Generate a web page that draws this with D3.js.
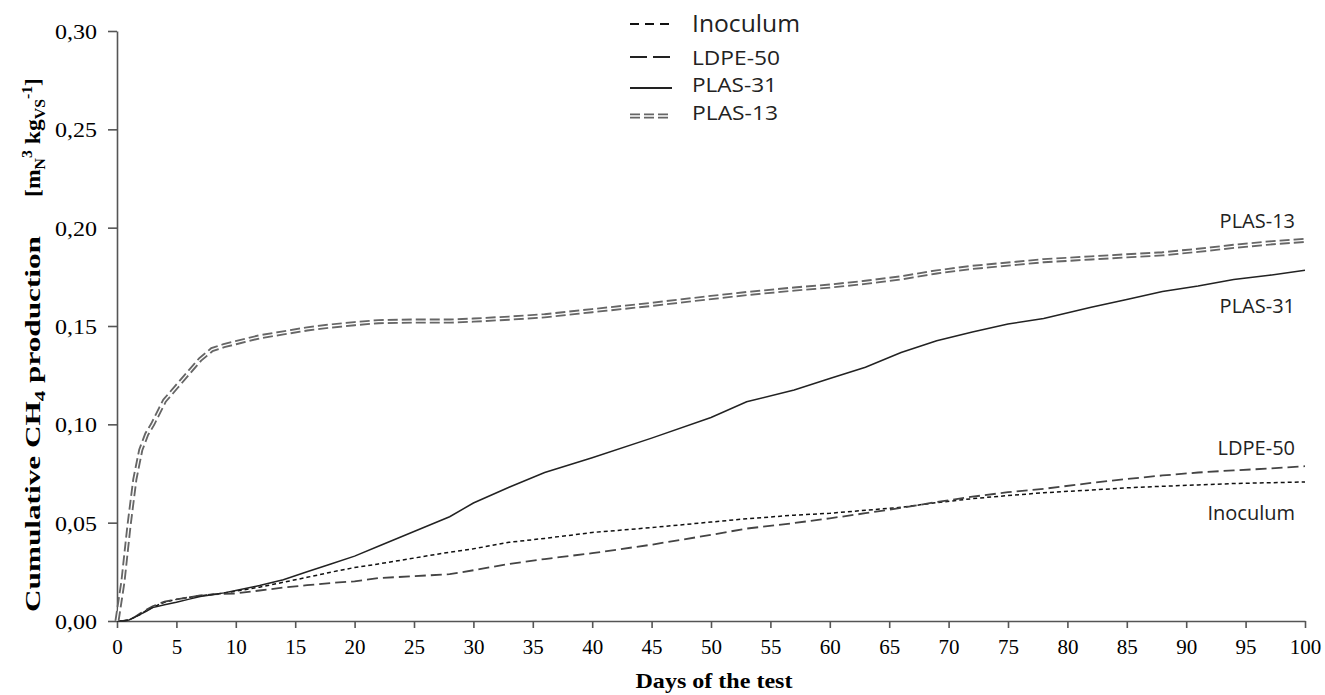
<!DOCTYPE html>
<html><head><meta charset="utf-8">
<script src="https://cdn.jsdelivr.net/npm/d3@7"></script>
<style>body{margin:0;background:#fff}svg{display:block}</style>
</head><body><svg id="c" width="1325" height="695"></svg>
<script>
const days = [0,0.5,1,1.5,2,2.5,3,4,5,6,7,8,9,10,12,14,16,18,20,22,25,28,30,33,36,40,45,50,53,57,60,63,66,69,72,75,78,82,85,88,91,94,97,100];
const inoculum = [0,0,0.0005,0.002,0.0035,0.0055,0.007,0.0095,0.011,0.012,0.0128,0.0135,0.0142,0.0152,0.0172,0.0197,0.0222,0.0248,0.0272,0.029,0.032,0.035,0.0367,0.04,0.042,0.045,0.0475,0.0503,0.052,0.0538,0.0548,0.0563,0.0578,0.0602,0.0622,0.0638,0.0652,0.0666,0.0677,0.0685,0.0692,0.0699,0.0703,0.0707];
const ldpe50 = [0,0,0.0005,0.002,0.004,0.0058,0.0075,0.0098,0.011,0.012,0.013,0.0135,0.0138,0.014,0.0155,0.017,0.0182,0.0193,0.0202,0.0218,0.0228,0.0238,0.0258,0.029,0.0315,0.0345,0.0388,0.0438,0.047,0.0498,0.0522,0.0548,0.0575,0.0605,0.0632,0.0655,0.0672,0.0702,0.0722,0.074,0.0755,0.0766,0.0775,0.0787];
const plas31 = [0,0,0.0005,0.002,0.0035,0.005,0.0068,0.0083,0.0095,0.011,0.0125,0.0133,0.0143,0.0155,0.018,0.021,0.025,0.029,0.033,0.038,0.0455,0.053,0.06,0.068,0.0755,0.083,0.093,0.1035,0.1115,0.1175,0.1233,0.129,0.1365,0.1425,0.147,0.151,0.1538,0.1595,0.1635,0.1675,0.1703,0.1736,0.1758,0.1784];
const plas13 = [0,0.02,0.048,0.072,0.087,0.095,0.1,0.112,0.119,0.126,0.133,0.138,0.14,0.1415,0.1445,0.1465,0.1485,0.15,0.1512,0.1522,0.1525,0.1525,0.153,0.154,0.1552,0.1578,0.161,0.1645,0.1665,0.1688,0.1703,0.1722,0.1745,0.1775,0.1798,0.1815,0.1832,0.1846,0.1857,0.1867,0.1885,0.1905,0.1922,0.1935];
const seriesNames = ["Inoculum","LDPE-50","PLAS-31","PLAS-13"];
const xTicks = [0,5,10,15,20,25,30,35,40,45,50,55,60,65,70,75,80,85,90,95,100];
const yTicks = [0,0.05,0.10,0.15,0.20,0.25,0.30];

const svg = d3.select("#c");
const x = d3.scaleLinear().domain([0,100]).range([117,1305]);
const y = d3.scaleLinear().domain([0,0.30]).range([621,31]);
const axisColor = "#555";
const serif = "'Liberation Serif','Times New Roman',serif";
const sans = "'Open Sans','Noto Sans',sans-serif";

// axes
const gx = svg.append("g").attr("transform","translate(0,621)")
  .call(d3.axisBottom(x).tickValues(xTicks).tickSize(7).tickSizeOuter(0).tickPadding(10).tickFormat(d3.format("d")));
const gy = svg.append("g").attr("transform","translate(117,0)")
  .call(d3.axisLeft(y).tickValues(yTicks).tickSize(9).tickSizeOuter(0).tickPadding(11).tickFormat(d=>d3.format(".2f")(d).replace(".",",")));
[gx,gy].forEach(g=>{
  g.selectAll("path,line").attr("stroke",axisColor).attr("stroke-width",1.6);
  g.selectAll("text").attr("fill","#000").style("font-family",serif).style("font-size","21px");
});
gy.selectAll("text").attr("dy","0.35em").attr("textLength",42).attr("lengthAdjust","spacingAndGlyphs");
gx.selectAll("text").attr("dy","0.75em");

// lines
const line = d3.line().x((d,i)=>x(days[i])).y(d=>y(d));
svg.append("path").datum(inoculum).attr("d",line).attr("fill","none").attr("stroke","#111").attr("stroke-width",1.5).attr("stroke-dasharray","4,3");
svg.append("path").datum(ldpe50).attr("d",line).attr("fill","none").attr("stroke","#444").attr("stroke-width",1.8).attr("stroke-dasharray","11,5");
svg.append("path").datum(plas31).attr("d",line).attr("fill","none").attr("stroke","#222").attr("stroke-width",1.5);
svg.append("path").datum(plas13).attr("d",line).attr("fill","none").attr("stroke","#666").attr("stroke-width",5).attr("stroke-dasharray","10,4");
svg.append("path").datum(plas13).attr("d",line).attr("fill","none").attr("stroke","#fff").attr("stroke-width",1.3);

// right labels
const endLabels = [
  {name:seriesNames[3], y:228},
  {name:seriesNames[2], y:313},
  {name:seriesNames[1], y:455},
  {name:seriesNames[0], y:520}
];
svg.selectAll("text.end").data(endLabels).join("text").attr("class","end")
  .attr("x",1295).attr("y",d=>d.y).attr("text-anchor","end")
  .style("font-family",sans).style("font-size","20px").attr("fill","#222").text(d=>d.name);

// legend
const leg = [
  {name:seriesNames[0], ly:24, ty:32, fs:23, tl:108},
  {name:seriesNames[1], ly:57, ty:65, fs:20, tl:88},
  {name:seriesNames[2], ly:88, ty:92, fs:20, tl:85},
  {name:seriesNames[3], ly:116, ty:120, fs:20, tl:86}
];
const lg = svg.append("g");
const styles = [
  {stroke:"#111",w:1.8,dash:"9,6"},
  {stroke:"#222",w:2,dash:"17,6"},
  {stroke:"#222",w:2,dash:null},
  {stroke:"#666",w:5,dash:"10,4",dbl:true}
];
leg.forEach((d,i)=>{
  const s = styles[i];
  const l = lg.append("line").attr("x1",630).attr("x2",672).attr("y1",d.ly).attr("y2",d.ly)
    .attr("stroke",s.stroke).attr("stroke-width",s.w);
  if(s.dash) l.attr("stroke-dasharray",s.dash);
  if(s.dbl) lg.append("line").attr("x1",630).attr("x2",672).attr("y1",d.ly).attr("y2",d.ly).attr("stroke","#fff").attr("stroke-width",1.3);
  lg.append("text").attr("x",692).attr("y",d.ty).style("font-family",sans).style("font-size",d.fs+"px")
    .attr("textLength",d.tl).attr("lengthAdjust","spacingAndGlyphs").attr("fill","#222").text(d.name);
});

// axis titles
svg.append("text").attr("x",714).attr("y",688).attr("text-anchor","middle")
  .style("font-family",serif).style("font-weight","bold").style("font-size","21px")
  .attr("textLength",157).attr("lengthAdjust","spacingAndGlyphs").text("Days of the test");

const yt = svg.append("text").attr("transform","translate(40,612) rotate(-90)")
  .attr("textLength",376).attr("lengthAdjust","spacingAndGlyphs")
  .style("font-family",serif).style("font-weight","bold").style("font-size","21px");
yt.append("tspan").text("Cumulative CH");
yt.append("tspan").attr("dy",5).style("font-size","14px").text("4");
yt.append("tspan").attr("dy",-5).text(" production");

const yt2 = svg.append("text").attr("transform","translate(40,197) rotate(-90)")
  .attr("textLength",119).attr("lengthAdjust","spacingAndGlyphs")
  .style("font-family",serif).style("font-weight","bold").style("font-size","21px");
yt2.append("tspan").text("[m");
yt2.append("tspan").attr("dy",5).style("font-size","14px").text("N");
yt2.append("tspan").attr("dy",-13).style("font-size","14px").text("3");
yt2.append("tspan").attr("dy",8).text(" kg");
yt2.append("tspan").attr("dy",5).style("font-size","14px").text("VS");
yt2.append("tspan").attr("dy",-13).style("font-size","14px").text("-1");
yt2.append("tspan").attr("dy",8).text("]");
</script></body></html>
